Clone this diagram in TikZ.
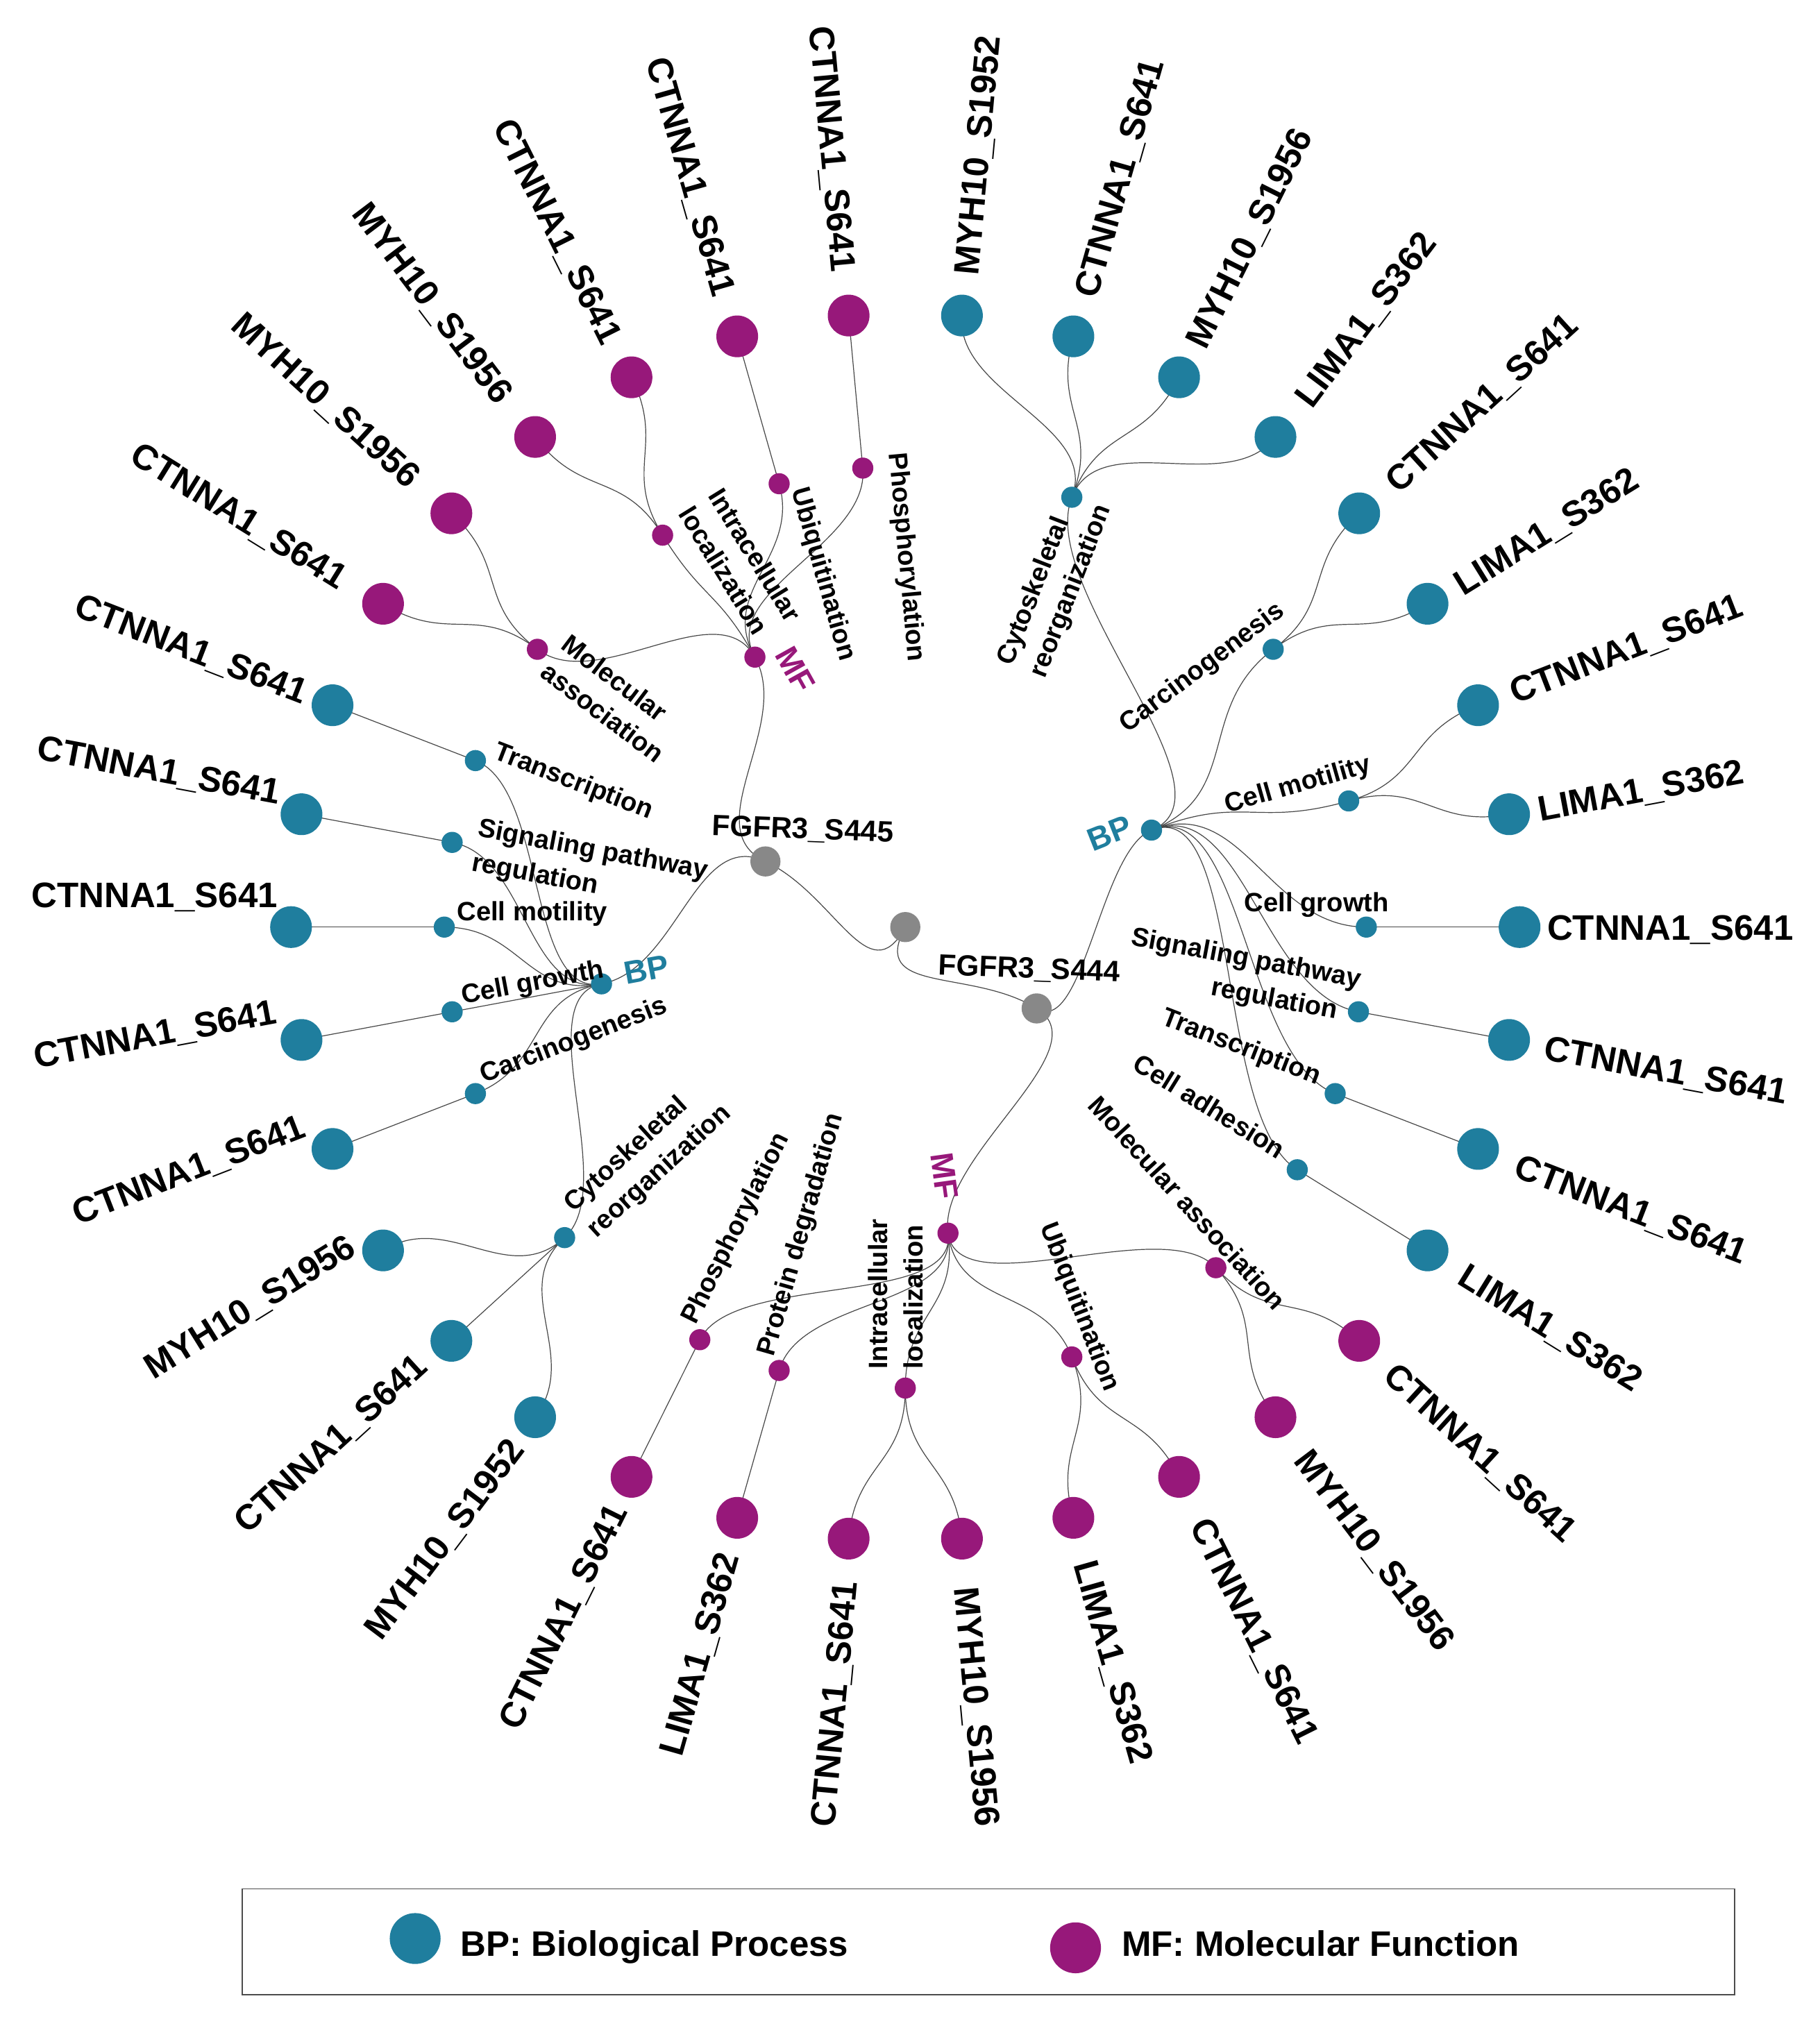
\documentclass[tikz,border=0pt]{standalone}
\usepackage{fontspec}
\setmainfont{Liberation Sans}
\usetikzlibrary{calc}
\definecolor{bpc}{RGB}{31,126,158}
\definecolor{mfc}{RGB}{151,24,122}
\definecolor{hubc}{RGB}{136,136,136}
\pgfdeclarelayer{back}
\pgfdeclarelayer{bg}
\pgfsetlayers{back,bg,main}
\newcommand\leaffont{\fontsize{27.5}{33}\selectfont\bfseries}
\newcommand\termfont{\fontsize{20.6}{27}\selectfont\bfseries}
\newcommand\catfont{\fontsize{25}{30}\selectfont\bfseries}
\newcommand\hubfont{\fontsize{22.8}{27}\selectfont\bfseries}
% linkRadial connector: parent, parent angle, parent radius, child, child angle, child radius
\newcommand\lnk[6]{\draw[conn] (#1.center) .. controls (#2:{(#3+#6)/2}) and (#5:{(#3+#6)/2}) .. (#4.center);}
% leaf node
\newcommand\leafnode[3]{\node[leaf=#3] (l#1) at (#2:477) {};}
% leaf label: index, angle, rotation, radius, shift, text
\newcommand\LL[6]{\node[leaflab, rotate=#3] (ll#1) at ($(#2:#4)+({#2-90}:#5)$) {#6};}
\tikzset{
  leaf/.style={circle, fill=#1, minimum size=32.4pt, inner sep=0pt},
  term/.style={circle, fill=#1, minimum size=16.4pt, inner sep=0pt},
  hub/.style={circle, fill=hubc, minimum size=23.4pt, inner sep=0pt},
  conn/.style={draw=black!72, line width=0.65pt},
  leaflab/.style={font=\leaffont, inner sep=0pt, text height=19.7pt, text depth=0pt, anchor=center},
  termlab/.style={font=\termfont, inner sep=0pt, text height=14.75pt, text depth=0pt, anchor=center},
  mtermlab/.style={font=\termfont, inner sep=0pt, align=left, anchor=center},
  catlab/.style={font=\catfont, inner sep=0pt, text height=17.9pt, text depth=0pt, anchor=center},
  hublab/.style={font=\hubfont, inner sep=0pt, text height=16.3pt, text depth=0pt, anchor=center},
}
\begin{document}
\begin{tikzpicture}[x=1pt, y=1pt]
\useasboundingbox (-703,-848) rectangle (710,720);
\begin{pgfonlayer}{back}
\fill[white] (-703,-848) rectangle (710,720);
\end{pgfonlayer}

% hubs and categories
\node[hub] (root) at (0,0) {};
\node[hub] (s445) at (154.853:120) {};
\node[hub] (s444) at (328.235:120) {};
\node[term=mfc] (mfT) at (119.118:240) {};
\node[term=bpc] (bpL) at (190.588:240) {};
\node[term=mfc] (mfB) at (277.941:240) {};
\node[term=bpc] (bpR) at (21.5:205.5) {};

% terms
\node[term=bpc] (tRcyto) at (68.824:358) {};
\node[term=bpc] (tRcarc) at (37.059:358) {};
\node[term=bpc] (tRmot) at (15.882:358) {};
\node[term=bpc] (tRgro) at (0:358) {};
\node[term=bpc] (tRsig) at (-10.588:358) {};
\node[term=bpc] (tRtra) at (-21.176:358) {};
\node[term=bpc] (tRadh) at (-31.765:358) {};
\node[term=mfc] (tTpho) at (95.294:358) {};
\node[term=mfc] (tTubi) at (105.882:358) {};
\node[term=mfc] (tTint) at (121.765:358) {};
\node[term=mfc] (tTmol) at (142.941:358) {};
\node[term=bpc] (tLtra) at (158.824:358) {};
\node[term=bpc] (tLsig) at (169.412:358) {};
\node[term=bpc] (tLmot) at (180:358) {};
\node[term=bpc] (tLgro) at (190.588:358) {};
\node[term=bpc] (tLcar) at (201.176:358) {};
\node[term=bpc] (tLcyt) at (222.353:358) {};
\node[term=mfc] (tBpho) at (243.529:358) {};
\node[term=mfc] (tBpro) at (254.118:358) {};
\node[term=mfc] (tBint) at (270:358) {};
\node[term=mfc] (tBubi) at (291.176:358) {};
\node[term=mfc] (tBmol) at (312.353:358) {};

% leaves
\leafnode{0}{0}{bpc}
\leafnode{1}{10.588}{bpc}
\leafnode{2}{21.176}{bpc}
\leafnode{3}{31.765}{bpc}
\leafnode{4}{42.353}{bpc}
\leafnode{5}{52.941}{bpc}
\leafnode{6}{63.529}{bpc}
\leafnode{7}{74.118}{bpc}
\leafnode{8}{84.706}{bpc}
\leafnode{9}{95.294}{mfc}
\leafnode{10}{105.882}{mfc}
\leafnode{11}{116.471}{mfc}
\leafnode{12}{127.059}{mfc}
\leafnode{13}{137.647}{mfc}
\leafnode{14}{148.235}{mfc}
\leafnode{15}{158.824}{bpc}
\leafnode{16}{169.412}{bpc}
\leafnode{17}{180}{bpc}
\leafnode{18}{190.588}{bpc}
\leafnode{19}{201.176}{bpc}
\leafnode{20}{211.765}{bpc}
\leafnode{21}{222.353}{bpc}
\leafnode{22}{232.941}{bpc}
\leafnode{23}{243.529}{mfc}
\leafnode{24}{254.118}{mfc}
\leafnode{25}{264.706}{mfc}
\leafnode{26}{275.294}{mfc}
\leafnode{27}{285.882}{mfc}
\leafnode{28}{296.471}{mfc}
\leafnode{29}{307.059}{mfc}
\leafnode{30}{317.647}{mfc}
\leafnode{31}{328.235}{bpc}
\leafnode{32}{338.824}{bpc}
\leafnode{33}{349.412}{bpc}

% connectors
\begin{pgfonlayer}{bg}
\lnk{root}{241.544}{0}{s445}{154.853}{120}
\lnk{root}{241.544}{0}{s444}{328.235}{120}
\lnk{s445}{154.853}{120}{mfT}{119.118}{240}
\lnk{s445}{154.853}{120}{bpL}{190.588}{240}
\lnk{s444}{328.235}{120}{bpR}{21.5}{205.5}
\lnk{s444}{328.235}{120}{mfB}{277.941}{240}
% right BP
\lnk{bpR}{21.5}{205.5}{tRcyto}{68.824}{358}
\lnk{bpR}{21.5}{205.5}{tRcarc}{37.059}{358}
\lnk{bpR}{21.5}{205.5}{tRmot}{15.882}{358}
\lnk{bpR}{21.5}{205.5}{tRgro}{0}{358}
\lnk{bpR}{21.5}{205.5}{tRsig}{-10.588}{358}
\lnk{bpR}{21.5}{205.5}{tRtra}{-21.176}{358}
\lnk{bpR}{21.5}{205.5}{tRadh}{-31.765}{358}
% top MF
\lnk{mfT}{119.118}{240}{tTpho}{95.294}{358}
\lnk{mfT}{119.118}{240}{tTubi}{105.882}{358}
\lnk{mfT}{119.118}{240}{tTint}{121.765}{358}
\lnk{mfT}{119.118}{240}{tTmol}{142.941}{358}
% left BP
\lnk{bpL}{190.588}{240}{tLtra}{158.824}{358}
\lnk{bpL}{190.588}{240}{tLsig}{169.412}{358}
\lnk{bpL}{190.588}{240}{tLmot}{180}{358}
\lnk{bpL}{190.588}{240}{tLgro}{190.588}{358}
\lnk{bpL}{190.588}{240}{tLcar}{201.176}{358}
\lnk{bpL}{190.588}{240}{tLcyt}{222.353}{358}
% bottom MF
\lnk{mfB}{277.941}{240}{tBpho}{243.529}{358}
\lnk{mfB}{277.941}{240}{tBpro}{254.118}{358}
\lnk{mfB}{277.941}{240}{tBint}{270}{358}
\lnk{mfB}{277.941}{240}{tBubi}{291.176}{358}
\lnk{mfB}{277.941}{240}{tBmol}{312.353}{358}
% terms to leaves
\lnk{tRgro}{0}{358}{l0}{0}{477}
\lnk{tRmot}{15.882}{358}{l1}{10.588}{477}
\lnk{tRmot}{15.882}{358}{l2}{21.176}{477}
\lnk{tRcarc}{37.059}{358}{l3}{31.765}{477}
\lnk{tRcarc}{37.059}{358}{l4}{42.353}{477}
\lnk{tRcyto}{68.824}{358}{l5}{52.941}{477}
\lnk{tRcyto}{68.824}{358}{l6}{63.529}{477}
\lnk{tRcyto}{68.824}{358}{l7}{74.118}{477}
\lnk{tRcyto}{68.824}{358}{l8}{84.706}{477}
\lnk{tTpho}{95.294}{358}{l9}{95.294}{477}
\lnk{tTubi}{105.882}{358}{l10}{105.882}{477}
\lnk{tTint}{121.765}{358}{l11}{116.471}{477}
\lnk{tTint}{121.765}{358}{l12}{127.059}{477}
\lnk{tTmol}{142.941}{358}{l13}{137.647}{477}
\lnk{tTmol}{142.941}{358}{l14}{148.235}{477}
\lnk{tLtra}{158.824}{358}{l15}{158.824}{477}
\lnk{tLsig}{169.412}{358}{l16}{169.412}{477}
\lnk{tLmot}{180}{358}{l17}{180}{477}
\lnk{tLgro}{190.588}{358}{l18}{190.588}{477}
\lnk{tLcar}{201.176}{358}{l19}{201.176}{477}
\lnk{tLcyt}{222.353}{358}{l20}{211.765}{477}
\lnk{tLcyt}{222.353}{358}{l21}{222.353}{477}
\lnk{tLcyt}{222.353}{358}{l22}{232.941}{477}
\lnk{tBpho}{243.529}{358}{l23}{243.529}{477}
\lnk{tBpro}{254.118}{358}{l24}{254.118}{477}
\lnk{tBint}{270}{358}{l25}{264.706}{477}
\lnk{tBint}{270}{358}{l26}{275.294}{477}
\lnk{tBubi}{291.176}{358}{l27}{285.882}{477}
\lnk{tBubi}{291.176}{358}{l28}{296.471}{477}
\lnk{tBmol}{312.353}{358}{l29}{307.059}{477}
\lnk{tBmol}{312.353}{358}{l30}{317.647}{477}
\lnk{tRadh}{-31.765}{358}{l31}{-31.765}{477}
\lnk{tRtra}{-21.176}{358}{l32}{-21.176}{477}
\lnk{tRsig}{-10.588}{358}{l33}{-10.588}{477}
\end{pgfonlayer}

% leaf labels
\LL{0}{0}{0}{594}{0}{CTNNA1\_S641}
\LL{1}{10.588}{10.588}{581}{0}{LIMA1\_S362}
\LL{2}{21.176}{21.176}{600}{0}{CTNNA1\_S641}
\LL{3}{31.765}{31.765}{585}{0}{LIMA1\_S362}
\LL{4}{42.353}{42.353}{605}{0}{CTNNA1\_S641}
\LL{5}{52.941}{52.941}{592}{0}{LIMA1\_S362}
\LL{6}{63.529}{63.529}{598}{0}{MYH10\_S1956}
\LL{7}{74.118}{74.118}{605}{0}{CTNNA1\_S641}
\LL{8}{84.706}{84.706}{602}{0}{MYH10\_S1952}
\LL{9}{95.294}{-84.706}{607}{0}{CTNNA1\_S641}
\LL{10}{105.882}{-74.118}{606}{0}{CTNNA1\_S641}
\LL{11}{116.471}{-63.529}{604}{0}{CTNNA1\_S641}
\LL{12}{127.059}{-52.941}{608}{0}{MYH10\_S1956}
\LL{13}{137.647}{-42.353}{608}{0}{MYH10\_S1956}
\LL{14}{148.235}{-31.765}{608}{0}{CTNNA1\_S641}
\LL{15}{158.824}{-21.176}{595}{2}{CTNNA1\_S641}
\LL{16}{169.412}{-10.588}{592}{14}{CTNNA1\_S641}
\LL{17}{180}{0}{583}{25}{CTNNA1\_S641}
\LL{18}{190.588}{10.588}{588}{26}{CTNNA1\_S641}
\LL{19}{201.176}{21.176}{587}{26}{CTNNA1\_S641}
\LL{20}{211.765}{31.765}{588}{18}{MYH10\_S1956}
\LL{21}{222.353}{42.353}{600}{5}{CTNNA1\_S641}
\LL{22}{232.941}{52.941}{595}{0}{MYH10\_S1952}
\LL{23}{243.529}{63.529}{598}{0}{CTNNA1\_S641}
\LL{24}{254.118}{74.118}{587}{0}{LIMA1\_S362}
\LL{25}{264.706}{84.706}{606}{0}{CTNNA1\_S641}
\LL{26}{275.294}{-84.706}{608}{0}{MYH10\_S1956}
\LL{27}{285.882}{-74.118}{593}{0}{LIMA1\_S362}
\LL{28}{296.471}{-63.529}{610}{0}{CTNNA1\_S641}
\LL{29}{307.059}{-52.941}{606}{0}{MYH10\_S1956}
\LL{30}{317.647}{-42.353}{605}{0}{CTNNA1\_S641}
\LL{31}{328.235}{-31.765}{590}{0}{LIMA1\_S362}
\LL{32}{338.824}{-21.176}{605}{0}{CTNNA1\_S641}
\LL{33}{349.412}{-10.588}{601}{0}{CTNNA1\_S641}

% term labels
\node[mtermlab, rotate=68.824] (lbRcyto) at (116.5,265.5) {Cytoskeletal\\reorganization};
\node[termlab, rotate=37.059] (lbRcarc) at (229.6,202.9) {Carcinogenesis};
\node[termlab, rotate=15.882] (lbRmot) at (304.2,111.7) {Cell motility};
\node[termlab] (lbRgro) at (319.5,19.4) {Cell growth};
\node[mtermlab, rotate=-10.588] (lbRsig) at (262.1,-38.6) {Signaling pathway\\\hspace*{68pt}regulation};
\node[termlab, rotate=-21.176] (lbRtra) at (261.3,-91.8) {Transcription};
\node[termlab, rotate=-31.765] (lbRadh) at (236.2,-138.9) {Cell adhesion};

\node[termlab, rotate=-84.706] (lbTpho) at (2.3,287.3) {Phosphorylation};
\node[termlab, rotate=-74.118] (lbTubi) at (-62.4,274.5) {Ubiquitination};
\node[mtermlab, rotate=-58.235] (lbTint) at (-128.1,282) {Intracellular\\localization};
\node[mtermlab, rotate=-37.059] (lbTmol) at (-226.8,177.6) {Molecular\\association};

\node[termlab, rotate=-21.176] (lbLtra) at (-257.1,114.4) {Transcription};
\node[mtermlab, rotate=-10.588] (lbLsig) at (-245.1,45.9) {Signaling pathway\\regulation};
\node[termlab] (lbLmot) at (-289.7,12.2) {Cell motility};
\node[termlab, rotate=10.588] (lbLgro) at (-289.7,-42) {Cell growth};
\node[termlab, rotate=21.176] (lbLcar) at (-258.1,-86.8) {Carcinogenesis};
\node[mtermlab, rotate=42.353] (lbLcyt) at (-199.7,-180) {Cytoskeletal\\reorganization};

\node[termlab, rotate=63.529] (lbBpho) at (-132.9,-233.4) {Phosphorylation};
\node[termlab, rotate=74.118] (lbBpro) at (-82.6,-238.5) {Protein degradation};
\node[mtermlab, rotate=90] (lbBint) at (-7.5,-285) {Intracellular\\localization};
\node[termlab, rotate=-68.824] (lbBubi) at (136.8,-294.4) {Ubiquitination};
\node[termlab, rotate=-47.647] (lbBmol) at (219,-214) {Molecular association};

% category and hub labels
\node[catlab, text=bpc, rotate=21.5] (lbBPR) at (158.6,73.2) {BP};
\node[catlab, text=bpc, rotate=10.588] (lbBPL) at (-201,-32.7) {BP};
\node[catlab, text=mfc, rotate=-60.882] (lbMFT) at (-85.2,200.2) {MF};
\node[catlab, text=mfc, rotate=-82.059] (lbMFB) at (30.9,-193.2) {MF};
\node[hublab, rotate=-2.2] (lbS445) at (-79.5,76.7) {FGFR3\_S445};
\node[hublab, rotate=-2.2] (lbS444) at (96.3,-31.5) {FGFR3\_S444};

% legend
\node[draw=black!70, line width=0.8pt, minimum width=1159pt, minimum height=82pt, inner sep=0pt] (legend) at (64.5,-788) {};
\node[circle, fill=bpc, minimum size=39.5pt, inner sep=0pt] (legbp) at (-380.6,-785.5) {};
\node[circle, fill=mfc, minimum size=39.5pt, inner sep=0pt] (legmf) at (132.2,-792.7) {};
\node[font=\leaffont, inner sep=0pt, anchor=base west] (legbpt) at (-345.5,-799.3) {BP: Biological Process};
\node[font=\leaffont, inner sep=0pt, anchor=base west] (legmft) at (168,-799.3) {MF: Molecular Function};
\end{tikzpicture}
\end{document}
